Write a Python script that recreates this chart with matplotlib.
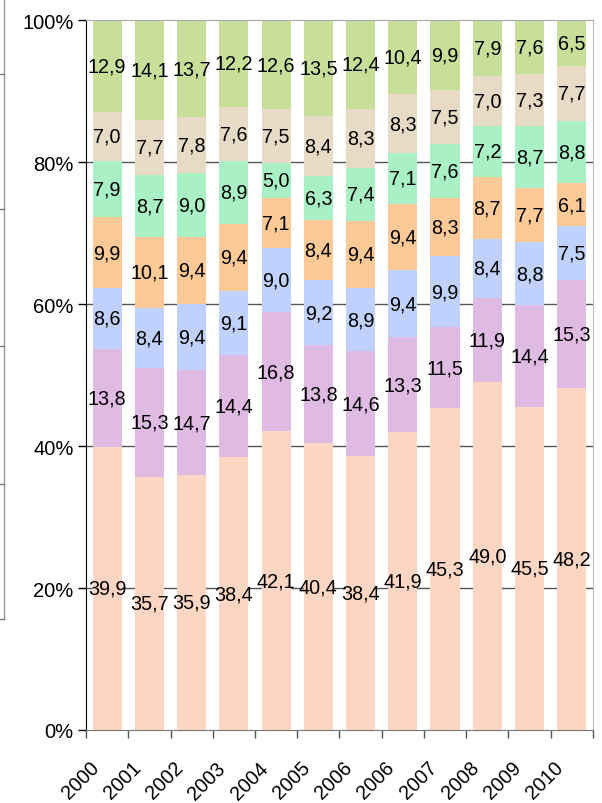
import numpy as np
import matplotlib.pyplot as plt
from matplotlib.lines import Line2D
from matplotlib.transforms import ScaledTranslation

plt.rcParams['font.family'] = ['Liberation Sans', 'DejaVu Sans']

# categories and series (bottom to top)
years = ['2000', '2001', '2002', '2003', '2004', '2005',
         '2006', '2006', '2007', '2008', '2009', '2010']
s1 = [39.9, 35.7, 35.9, 38.4, 42.1, 40.4, 38.4, 41.9, 45.3, 49.0, 45.5, 48.2]
s2 = [13.8, 15.3, 14.7, 14.4, 16.8, 13.8, 14.6, 13.3, 11.5, 11.9, 14.4, 15.3]
s3 = [8.6, 8.4, 9.4, 9.1, 9.0, 9.2, 8.9, 9.4, 9.9, 8.4, 8.8, 7.5]
s4 = [9.9, 10.1, 9.4, 9.4, 7.1, 8.4, 9.4, 9.4, 8.3, 8.7, 7.7, 6.1]
s5 = [7.9, 8.7, 9.0, 8.9, 5.0, 6.3, 7.4, 7.1, 7.6, 7.2, 8.7, 8.8]
s6 = [7.0, 7.7, 7.8, 7.6, 7.5, 8.4, 8.3, 8.3, 7.5, 7.0, 7.3, 7.7]
s7 = [12.9, 14.1, 13.7, 12.2, 12.6, 13.5, 12.4, 10.4, 9.9, 7.9, 7.6, 6.5]

series = [s1, s2, s3, s4, s5, s6, s7]
colors = ['#FCD6C2', '#DFBAE3', '#BFD1FC', '#FDC996',
          '#AAF0C5', '#E7DBC6', '#C8DF9A']

vals = np.array(series)
pct = vals / vals.sum(axis=0) * 100

fig = plt.figure(figsize=(6.02, 8.04), dpi=100)
ax = fig.add_axes([0.1429, 0.0908, 0.842, 0.883])

x = np.arange(len(years))
bottom = np.zeros(len(years))
for i, row in enumerate(pct):
    ax.bar(x, row, bottom=bottom, width=0.69, color=colors[i], zorder=2)
    for xi, b, h, v in zip(x, bottom, row, vals[i]):
        ax.text(xi, b + h / 2, f"{v:.1f}".replace('.', ','),
                ha='center', va='center', fontsize=14.2, color='black', zorder=3)
    bottom += row

ax.set_xlim(-0.5, len(years) - 0.5)
ax.set_ylim(0, 100)

ax.set_yticks([0, 20, 40, 60, 80, 100])
ax.set_yticklabels(['0%', '20%', '40%', '60%', '80%', '100%'], fontsize=14.5)
ax.tick_params(axis='y', length=6, width=1, pad=3, color='black')
for yv in [20, 40, 60, 80]:
    ax.axhline(yv, color='#555555', lw=1, zorder=1)

ax.set_xticks(x)
ax.set_xticklabels(years, rotation=45, ha='right', va='top',
                   rotation_mode='anchor', fontsize=14.2)
ax.tick_params(axis='x', which='major', length=0, pad=20)
ax.set_xticks(np.arange(-0.5, len(years)), minor=True)
ax.tick_params(axis='x', which='minor', length=6, width=1, color='#555555')
off = ScaledTranslation(-18 / 100, 0, fig.dpi_scale_trans)
for lbl in ax.get_xticklabels():
    lbl.set_transform(lbl.get_transform() + off)

ax.spines['left'].set_color('black')
ax.spines['bottom'].set_color('#777777')
ax.spines['top'].set_color('#AAAAAA')
ax.spines['right'].set_color('#BBBBBB')

# remnants of a neighbouring chart at the left edge
fig.add_artist(Line2D([3.5 / 602, 3.5 / 602], [1, 1 - 620 / 804],
                      color='#999999', lw=1))
for yp in [75, 210, 347, 485, 620]:
    fig.add_artist(Line2D([0, 3.5 / 602], [1 - yp / 804, 1 - yp / 804],
                          color='#777777', lw=1))

fig.savefig('out.png', dpi=100)
